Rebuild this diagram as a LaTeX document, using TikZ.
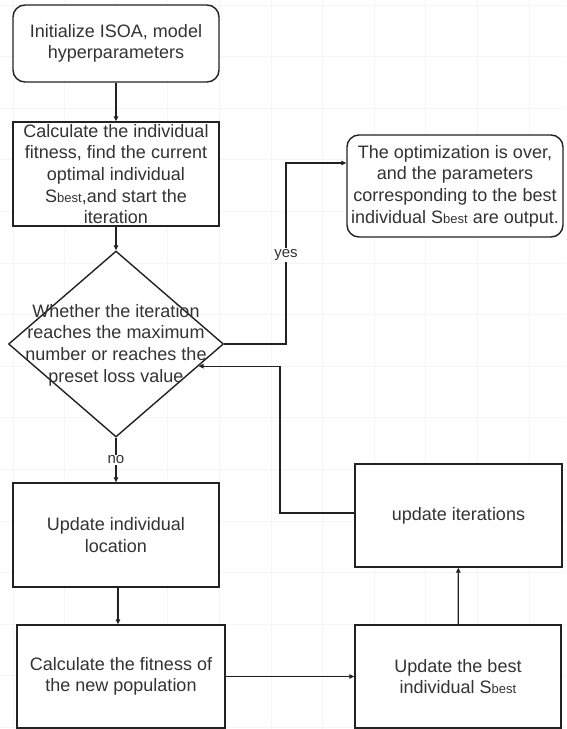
\documentclass[tikz,border=0pt]{standalone}
\usepackage{fontspec}
\setmainfont{Liberation Sans}
\usetikzlibrary{shapes.geometric,arrows.meta,calc}
\newcommand{\SbestTxt}{S{\fontsize{13}{13}\selectfont best}}
\definecolor{ln}{HTML}{222222}
\definecolor{tx}{HTML}{333333}
\begin{document}
\begin{tikzpicture}[x=1pt,y=-1pt,
  every node/.style={font=\fontsize{18}{21.6}\selectfont, text=tx, align=center, inner sep=0pt},
  box/.style={draw=ln, line width=1.4pt, fill=white, rectangle},
  rbox/.style={box, rounded corners=12pt},
  arr/.style={draw=ln, line width=1.3pt, -{Triangle[length=5pt,width=4.5pt]}},
  lbl/.style={fill=white, inner sep=1pt, font=\fontsize{15}{18}\selectfont}]
\useasboundingbox (0,0) rectangle (566,729);
\fill[white] (0,0) rectangle (566,729);
% faint grid
\foreach \i in {-1,...,11} {\draw[black!4, line width=0.8pt] ({13+51.6*\i},0) -- ({13+51.6*\i},729);}
\foreach \j in {0,...,14} {\draw[black!4, line width=0.8pt] (0,{5+51.6*\j}) -- (566,{5+51.6*\j});}

\node[rbox, minimum width=206pt, minimum height=77pt] (b1) at (116,43.5) {Initialize ISOA, model\\hyperparameters};
\node[box, minimum width=206pt, minimum height=104pt] (b2) at (116,174) {Calculate the individual\\fitness, find the current\\optimal individual\\\SbestTxt,and start the\\iteration};
\node[draw=ln, line width=1.4pt, fill=white, diamond, minimum width=215pt, minimum height=186pt] (dia) at (116,344) {};
\node (diat) at (116,345) {Whether the iteration\\reaches the maximum\\number or reaches the\\preset loss value};
\node[box, minimum width=206pt, minimum height=104pt] (b3) at (116,535) {Update individual\\location};
\node[box, minimum width=208pt, minimum height=103pt] (b4) at (121,676.5) {Calculate the fitness of\\the new population};
\node[box, minimum width=206pt, minimum height=103pt] (b5) at (458,676.5) {Update the best\\individual \SbestTxt};
\node[box, minimum width=207pt, minimum height=103pt] (b6) at (458.5,515.5) {update iterations};
\node[rbox, minimum width=216pt, minimum height=102pt] (b7) at (455,186) {The optimization is over,\\and the parameters\\corresponding to the best\\individual \SbestTxt{} are output.};

\draw[arr] (b1) -- (b2);
\draw[arr] (b2) -- (dia);
\draw[arr] (dia.south) -- (dia.south |- b3.north) node[lbl, pos=0.5] (no) {no};
\coordinate (c3) at (118,0);
\draw[arr] (c3 |- b3.south) -- (c3 |- b4.north);
\draw[arr] (b4) -- (b5);
\draw[arr] (b5) -- (b6);
\coordinate (ret) at (280,0);
\coordinate (hit) at ($(dia.east)!0.2366!(dia.south)$);
\draw[arr] ([yshift=2.5pt]b6.west) -- ([yshift=2.5pt]ret |- b6.west) |- (hit);
\coordinate (yx) at (286,0);
\draw[arr] (dia.east) -- (yx |- dia.east) |- ([yshift=23pt]b7.west);
\node[lbl] (yes) at (286,255) {yes};
\end{tikzpicture}
\end{document}
